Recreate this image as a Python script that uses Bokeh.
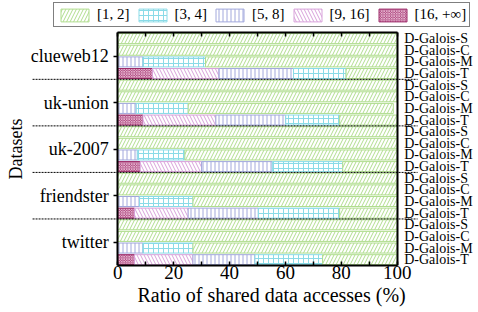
from bokeh.plotting import figure
from bokeh.models import (ColumnDataSource, Range1d, LinearAxis, FixedTicker,
                          Legend, LegendItem, Title)
from bokeh.embed import file_html
from bokeh.resources import INLINE

FONT = "Liberation Serif"

# groups listed bottom -> top, variants listed bottom -> top inside each group
datasets = ["twitter", "friendster", "uk-2007", "uk-union", "clueweb12"]
variants = ["D-Galois-T", "D-Galois-M", "D-Galois-C", "D-Galois-S"]

# legend order
bins = ["[1, 2]", "[3, 4]", "[5, 8]", "[9, 16]", "[16, +\u221e]"]

# ratios (%) per bar, order: twitter T,M,C,S, friendster T,M,C,S, ...
r16_inf = [6.0, 0, 0, 0,   6.0, 0, 0, 0,   8.0, 0, 0, 0,   9.0, 0, 0, 0,   12.4, 0, 0, 0]
r9_16   = [20.9, 0, 0, 0,  19.2, 0, 0, 0,  22.0, 0, 0, 0,  26.1, 0, 0, 0,  23.8, 0, 0, 0]
r5_8    = [22.2, 9.0, 0, 0, 25.1, 7.8, 0, 0, 25.3, 7.0, 0, 0, 25.0, 6.6, 0, 0, 26.7, 9.0, 0, 0]
r3_4    = [24.2, 17.9, 0, 0, 29.1, 19.1, 0, 0, 25.2, 17.0, 0, 0, 19.3, 18.6, 0, 0, 18.8, 22.4, 0, 0]
r1_2    = [26.7, 73.1, 100, 100, 20.6, 73.1, 100, 100, 19.5, 76.0, 100, 100,
           20.6, 73.4, 100, 100, 18.3, 68.6, 100, 100]

x_ticks = [0, 20, 40, 60, 80, 100]

n_var = len(variants)
n_bars = len(datasets) * n_var
ypos = [i + 0.5 for i in range(n_bars)]
bar_labels = [variants[i % n_var] for i in range(n_bars)]
group_centers = [g * n_var + n_var / 2 for g in range(len(datasets))]
boundaries = [g * n_var for g in range(1, len(datasets))]
x_lo, x_hi = x_ticks[0], x_ticks[-1]

src = ColumnDataSource(dict(y=ypos, r16_inf=r16_inf, r9_16=r9_16, r5_8=r5_8,
                            r3_4=r3_4, r1_2=r1_2))

# the frame spans the whole width so the group separators can run into the gutters;
# the 0..100 scale sits at canvas px 117..397
p = figure(width=478, height=312, x_range=Range1d(-41.98, 129.1),
           y_range=Range1d(0, 22.776), output_backend="svg",
           toolbar_location=None, background_fill_color="white",
           x_axis_location=None, y_axis_location=None)
p.min_border_left = 0
p.min_border_right = 0
p.min_border_top = 0
p.min_border_bottom = 47
p.outline_line_color = None
p.grid.visible = False

stack_keys = ["r16_inf", "r9_16", "r5_8", "r3_4", "r1_2"]
colors = ["#9c2a68", "#d8a2da", "#a2a8dc", "#8adbe7", "#b0dd8e"]
fills = ["#9c2a68", "white", "white", "white", "white"]
hatch_colors = ["#e6b3cf", "#d8a2da", "#a2a8dc", "#8adbe7", "#b0dd8e"]
patterns = ["x", "\\", "|", "+", "/"]
scales = [2.5, 7.0, 4.0, 5.0, 7.0]

rends = p.hbar_stack(stack_keys, y="y", height=0.86, source=src,
                     fill_color=fills, line_color=colors, line_width=1,
                     hatch_pattern=patterns, hatch_color=hatch_colors,
                     hatch_scale=scales, hatch_weight=1.0)

# dotted separators between dataset groups, running into the label gutters
sep = ColumnDataSource(dict(x0=[-30.5] * len(boundaries), x1=[107.3] * len(boundaries),
                            y=boundaries))
p.segment(x0="x0", y0="y", x1="x1", y1="y", source=sep, line_color="black",
          line_width=1, line_dash="2 1")

minor_x = [v + 10 for v in x_ticks[:-1]]

# bottom axis
ax = LinearAxis(ticker=FixedTicker(ticks=x_ticks, minor_ticks=minor_x),
                bounds=(x_lo, x_hi),
                major_tick_in=4, major_tick_out=0, minor_tick_in=4, minor_tick_out=0,
                axis_line_width=2, major_tick_line_width=1.5, minor_tick_line_width=1.5,
                major_label_text_font=FONT, major_label_text_font_size="19px",
                major_label_text_color="black", major_label_standoff=0)
p.add_layout(ax, "below")
p.add_layout(Title(text="Ratio of shared data accesses (%)", align="left", offset=137,
                   text_font=FONT, text_font_size="20px", text_font_style="normal",
                   text_color="black", standoff=0), "below")

# top border with inward ticks
top = LinearAxis(ticker=FixedTicker(ticks=[], minor_ticks=x_ticks + minor_x),
                 fixed_location=n_bars, bounds=(x_lo, x_hi),
                 minor_tick_in=4, minor_tick_out=0, axis_line_width=2,
                 minor_tick_line_width=1.5)
p.add_layout(top, "above")

# left axis with dataset names
ay = LinearAxis(ticker=FixedTicker(ticks=group_centers, minor_ticks=[]),
                fixed_location=x_lo, bounds=(0, n_bars),
                major_label_overrides={float(c): d for c, d in zip(group_centers, datasets)},
                major_tick_out=4, major_tick_in=0, major_tick_line_width=1.5,
                axis_line_width=2, major_label_text_font=FONT,
                major_label_text_font_size="18px", major_label_text_color="black",
                major_label_standoff=5, axis_label="Datasets", axis_label_text_font=FONT,
                axis_label_text_font_size="18px", axis_label_text_font_style="normal",
                axis_label_text_color="black", axis_label_standoff=2)
p.add_layout(ay, "left")

# right axis with variant names
right = LinearAxis(ticker=FixedTicker(ticks=ypos, minor_ticks=[]),
                   fixed_location=x_hi, bounds=(0, n_bars),
                   major_label_overrides={float(y): l for y, l in zip(ypos, bar_labels)},
                   major_tick_in=0, major_tick_out=0, axis_line_width=2,
                   major_label_text_font=FONT, major_label_text_font_size="14px",
                   major_label_text_color="black", major_label_standoff=7)
p.add_layout(right, "right")

order = [4, 3, 2, 1, 0]
legend = Legend(items=[LegendItem(label=bins[k], renderers=[rends[i]])
                       for k, i in enumerate(order)],
                location=(53, 238), orientation="horizontal",
                glyph_width=35, glyph_height=16, label_height=16, label_width=10,
                padding=3, spacing=5, label_standoff=5, margin=0,
                border_line_color="black", border_line_width=1,
                background_fill_color="white", background_fill_alpha=1,
                label_text_font=FONT, label_text_font_size="15px",
                label_text_color="black")
p.add_layout(legend)

open("out.html", "w").write(file_html(p, INLINE))
